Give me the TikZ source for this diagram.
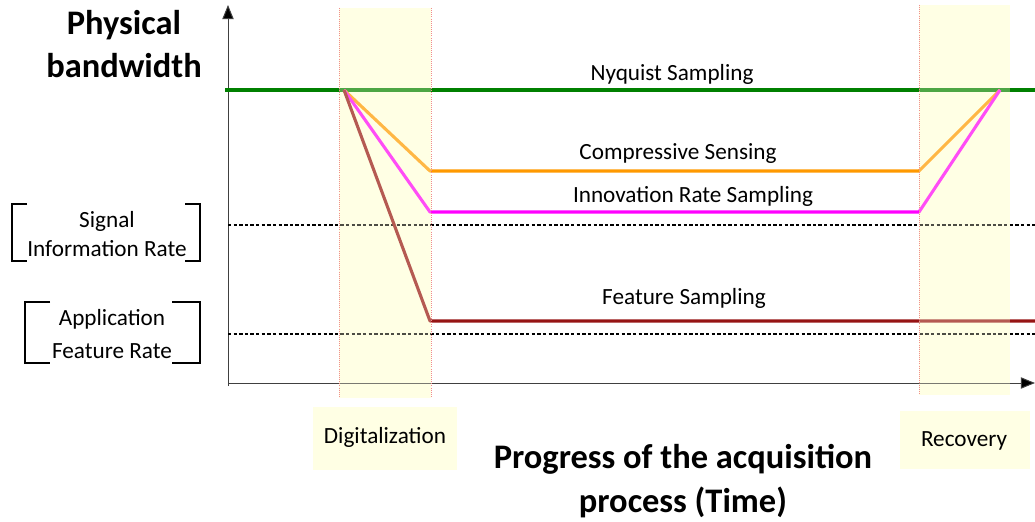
\documentclass[tikz,border=0pt]{standalone}
\usepackage{fontspec}
\setmainfont{Carlito}
\usetikzlibrary{arrows.meta}
\definecolor{nyqgreen}{RGB}{0,128,0}
\definecolor{csorange}{RGB}{255,153,0}
\definecolor{irmagenta}{RGB}{255,0,255}
\definecolor{fsbrown}{RGB}{150,20,20}
\definecolor{bandyellow}{RGB}{255,255,228}
\definecolor{edgered}{RGB}{240,140,140}

\begin{document}
\begin{tikzpicture}[x=0.25mm,y=-0.25mm,
	lbl/.style={font=\fontsize{16.5}{19}\selectfont, inner sep=0pt},
	ttl/.style={font=\fontsize{24.5}{31}\selectfont\bfseries, align=center, inner sep=0pt},
	band/.style={fill=bandyellow, fill opacity=0.3},
	bandedge/.style={draw=edgered, densely dotted, line width=0.5pt},
	rate/.style={line width=2.2pt, line join=round},
	level/.style={dash pattern=on 2.4pt off 1.6pt, line width=0.9pt},
	brk/.style={line width=1.1pt},
	axis/.style={line width=0.7pt, draw=black!75, -{Triangle[length=10pt,width=8pt,fill=black]}}]
			%%%%% START %%%%%
			\useasboundingbox (0,0) rectangle (1035,522);
			
			% phases
			\fill[bandyellow] (339,8) rectangle (431,398);
			\fill[bandyellow] (919,5) rectangle (1010,395);
			\fill[bandyellow] (313,407) rectangle (457,470);
			\fill[bandyellow] (900,411) rectangle (1030,469);
			
			% axes
			\coordinate (o) at (228,383);
			\coordinate (ytip) at (228,5);
			\coordinate (xtip) at (1035,383);
			\draw[axis] (228,386) -- (ytip);
			\draw[axis] (o) -- (xtip);
			
			% rate levels
			\draw[level] (228,225) -- (1035,225);
			\draw[level] (228,334) -- (1035,334);
			
			% sampling curves
			\coordinate (start) at (344,90);
			\coordinate (end) at (1000,90);
			\coordinate (cs1) at (430,171);
			\coordinate (cs2) at (919,171);
			\coordinate (ir1) at (430,212);
			\coordinate (ir2) at (919,212);
			\coordinate (fs1) at (430,321);
			\coordinate (fs2) at (1035,321);
			
			\draw[rate, nyqgreen] (225,90) -- (1035,90);
			\draw[rate, csorange] (start) -- (cs1) -- (cs2) -- (end);
			\draw[rate, irmagenta] (start) -- (ir1) -- (ir2) -- (end);
			\draw[rate, fsbrown] (start) -- (fs1) -- (fs2);
			
			\node[lbl] (nyq) at (672,74) {Nyquist Sampling};
			\node[lbl] (cs) at (678,154) {Compressive Sensing};
			\node[lbl] (ir) at (693,196) {Innovation Rate Sampling};
			\node[lbl] (fs) at (684,298) {Feature Sampling};
			
			% phase overlays
			\fill[band] (339,8) rectangle (431,398);
			\draw[bandedge] (339,8) -- (339,398);
			\draw[bandedge] (431,8) -- (431,398);
			\fill[band] (919,5) rectangle (1010,395);
			\draw[bandedge] (919,5) -- (919,395);
			
			\node[lbl] (dig) at (385,437) {Digitalization};
			\node[lbl] (rec) at (964,441) {Recovery};
			
			% rate brackets
			\node[lbl, align=center] (sig) at (107,234) {Signal\\[2pt]Information Rate};
			\draw[brk] (27,204) -- (12,204) -- (12,261) -- (27,261);
			\draw[brk] (185,204) -- (200,204) -- (200,261) -- (185,261);
			\node[lbl, align=center] (app) at (112,334) {Application\\[4pt]Feature Rate};
			\draw[brk] (50,302) -- (25,302) -- (25,363) -- (50,363);
			\draw[brk] (172,302) -- (200,302) -- (200,363) -- (172,363);
			
			% titles
			\node[ttl] (ylab) at (124,44) {Physical\\bandwidth};
			\node[ttl] (xlab) at (683,481) {Progress of the acquisition\\process (Time)};
			%%%%% END %%%%%
\end{tikzpicture}
\end{document}
